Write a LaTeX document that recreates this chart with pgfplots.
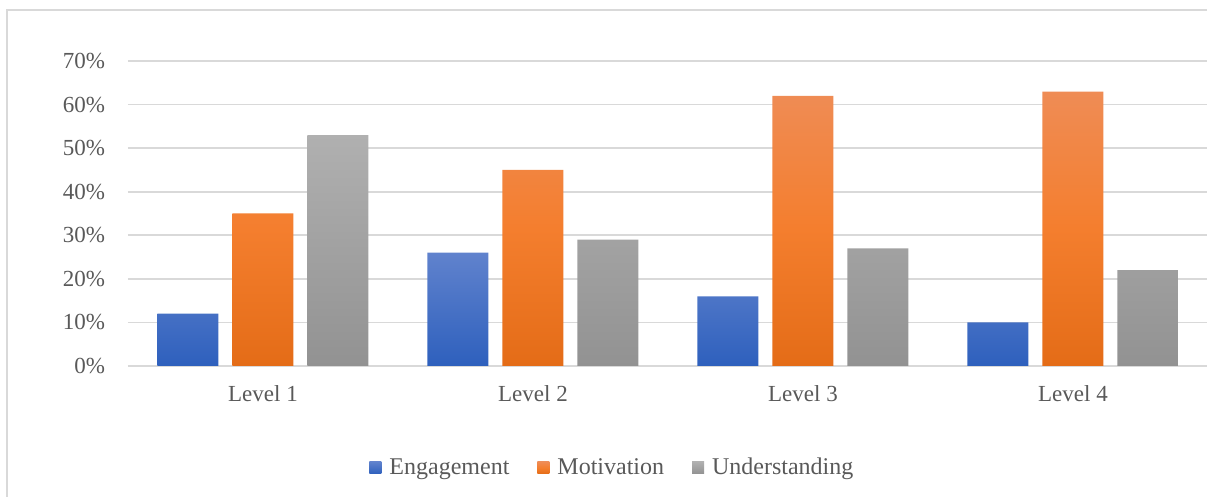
\documentclass[border=0pt]{standalone}
\usepackage{pgfplots}
\pgfplotsset{compat=1.18}
\usepackage{fontspec}
\setmainfont{Liberation Serif}

\definecolor{txt}{HTML}{595959}
\definecolor{gridc}{HTML}{D9D9D9}
\definecolor{frame}{HTML}{D9D9D9}

\begin{document}
\begin{tikzpicture}
\useasboundingbox (0,0) rectangle (603.5pt,248.5pt);
% outer chart frame (right and bottom edges fall outside the picture)
\draw[frame, line width=1pt] (3.5pt,-5pt) -- (3.5pt,243.5pt) -- (610pt,243.5pt);
\begin{axis}[
  at={(64pt,65.5pt)}, anchor=south west,
  scale only axis,
  width=540pt, height=152.5pt,
  xmin=0.5, xmax=4.5,
  ymin=0, ymax=70,
  ybar=7pt, bar width=30.5pt,
  axis line style={draw=none},
  ymajorgrids, grid style={gridc, line width=0.8pt},
  xtick={1,2,3,4},
  xticklabels={Level 1, Level 2, Level 3, Level 4},
  ytick={0,10,...,70},
  yticklabel={\pgfmathprintnumber{\tick}\%},
  major tick length=0pt,
  /pgf/number format/assume math mode=true,
  tick label style={font=\fontsize{11.5}{13}\selectfont, text=txt},
  yticklabel style={xshift=-8pt},
  xticklabel style={yshift=-6pt},
  legend style={at={(axis description cs:0.4495,-0.334)}, anchor=center,
    draw=none, fill=none, legend columns=-1,
    font=\fontsize{12}{14}\selectfont, text=txt,
    /tikz/every odd column/.append style={column sep=2pt},
    /tikz/every even column/.append style={column sep=12pt}},
  legend image code/.code={\draw[#1, draw=none] (0pt,-3pt) rectangle (6pt,3pt);},
]
\draw[gridc, line width=1.2pt] (axis cs:0.5,0) -- (axis cs:4.5,0);
\addplot[draw=none, top color={rgb,255:red,96;green,130;blue,205}, bottom color={rgb,255:red,46;green,96;blue,189}]
  coordinates {(1,12) (2,26) (3,16) (4,10)};
\addplot[draw=none, top color={rgb,255:red,239;green,140;blue,85}, bottom color={rgb,255:red,228;green,108;blue,23}, middle color={rgb,255:red,244;green,126;blue,46}]
  coordinates {(1,35) (2,45) (3,62) (4,63)};
\addplot[draw=none, top color={rgb,255:red,176;green,176;blue,176}, bottom color={rgb,255:red,146;green,146;blue,146}]
  coordinates {(1,53) (2,29) (3,27) (4,22)};
\legend{Engagement, Motivation, Understanding}
\end{axis}
\end{tikzpicture}
\end{document}
